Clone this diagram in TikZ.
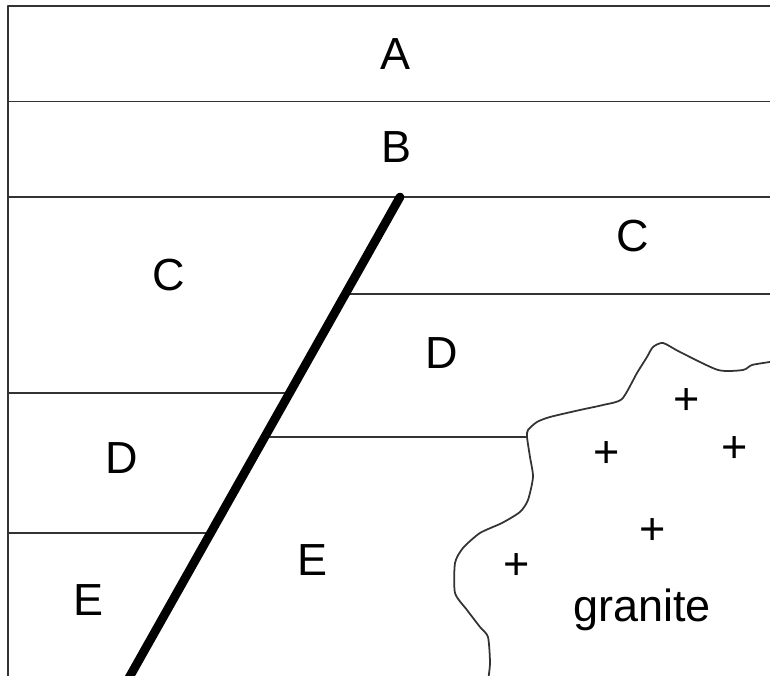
\documentclass[tikz,border=0pt]{standalone}
\usepackage{fontspec}
\setmainfont{Liberation Sans}
\usepackage{tikz}
\usepackage{tkz-euclide}
\definecolor{bed}{rgb}{0.2,0.2,0.2}
\tikzset{
  layer/.style={draw=bed,line width=0.5pt},
  unit/.style={font=\fontsize{12.8}{15}\selectfont,inner sep=0pt},
  grain/.style={font=\fontsize{12.8}{15}\selectfont,inner sep=0pt,yshift=-0.02cm}
}

\begin{document}
\begin{tikzpicture}

  \tkzDefPoint(0,0){min}
  \tkzDefPoint(7.70,6.76){max}
  \useasboundingbox (min) rectangle (max);
  \clip (min) rectangle (max);

  % frame and the two top beds
  \tkzDefPoint(0.08,6.70){t0}
  \tkzDefPoint(7.70,6.70){t1}
  \tkzDefPoint(0.08,5.745){b0}
  \tkzDefPoint(7.70,5.745){b1}
  \tkzDefPoint(0.08,4.79){c0}
  \tkzDefPoint(7.70,4.79){c1}
  \tkzDefPoint(0.08,0.00){s0}

  \tkzDrawSegments[layer](t0,t1 b0,b1 c0,c1 t0,s0)

  % fault
  \tkzDefPoint(4.00,4.79){f0}
  \tkzDefPoint(1.165,-0.24){f1}

  % left block
  \tkzDefPoint(0.08,2.83){d0}
  \tkzDefPoint(7.70,2.83){d9}
  \tkzDefPoint(0.08,1.43){e0}
  \tkzDefPoint(7.70,1.43){e9}
  \tkzInterLL(f0,f1)(d0,d9) \tkzGetPoint{dL}
  \tkzInterLL(f0,f1)(e0,e9) \tkzGetPoint{eL}

  % right block
  \tkzDefPoint(0.08,3.82){p0}
  \tkzDefPoint(7.70,3.82){p1}
  \tkzDefPoint(0.08,2.39){q0}
  \tkzDefPoint(5.27,2.39){g0}
  \tkzInterLL(f0,f1)(p0,p1) \tkzGetPoint{dR}
  \tkzInterLL(f0,f1)(q0,g0) \tkzGetPoint{eR}

  \tkzDrawSegments[layer](d0,dL e0,eL dR,p1 eR,g0)

  % granite contact
  \draw[layer] plot[smooth,tension=0.4] coordinates {
    (7.70,3.14) (7.52,3.11) (7.43,3.06) (7.18,3.06) (6.80,3.24)
    (6.63,3.33) (6.53,3.29) (6.47,3.19) (6.37,3.03) (6.22,2.77)
    (6.03,2.71) (5.80,2.66) (5.50,2.59) (5.37,2.54) (5.28,2.46)
    (5.27,2.39) (5.30,2.19) (5.33,1.99) (5.28,1.76) (5.20,1.64)
    (5.02,1.53) (4.80,1.43) (4.63,1.28) (4.55,1.13) (4.55,0.83)
    (4.67,0.66) (4.80,0.49) (4.88,0.39) (4.90,0.13) (4.88,-0.05)};

  \tkzDrawSegment[line width=2.5pt](f0,f1)

  % labels
  \node[unit] (A)  at (3.96,6.22) {A};
  \node[unit] (B)  at (3.97,5.29) {B};
  \node[unit] (CL) at (1.69,4.005) {C};
  \node[unit] (CR) at (6.33,4.40) {C};
  \node[unit] (DL) at (1.22,2.18) {D};
  \node[unit] (DR) at (4.42,3.23) {D};
  \node[unit] (EL) at (0.89,0.76) {E};
  \node[unit] (ER) at (3.13,1.16) {E};
  \node[unit,anchor=base] (gr) at (6.42,0.54) {granite};

  \foreach \p [count=\i] in {(6.87,2.76),(6.07,2.23),(7.35,2.28),(6.53,1.46),(5.17,1.11)}
    \node[grain] (x\i) at \p {+};

\end{tikzpicture}
\end{document}
